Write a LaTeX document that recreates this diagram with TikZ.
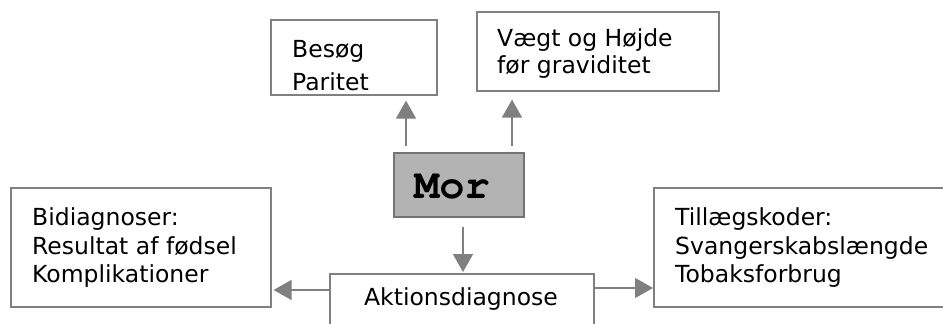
\documentclass[tikz,border=0pt]{standalone}
\usepackage[T1]{fontenc}
\usepackage{fontspec}
\setmainfont{DejaVu Sans}
\newcommand{\courbold}{\fontencoding{T1}\fontfamily{pcr}\fontseries{b}\selectfont}
\usetikzlibrary{arrows.meta}
\definecolor{edge}{HTML}{808080}
\definecolor{morfill}{HTML}{B3B3B3}
\tikzset{
  box/.style={draw=edge, line width=1.6pt, fill=white, inner sep=0pt, anchor=north west},
  txt/.style={anchor=base west, inner sep=0pt, font=\fontsize{23.5}{28}\selectfont},
  arr/.style={draw=edge, line width=1.6pt, -{Triangle[length=18pt,width=20pt]}},
}
\begin{document}
\begin{tikzpicture}[x=1pt,y=-1pt]
\useasboundingbox (0,0) rectangle (943,324);
\clip (0,0) rectangle (943,324);
\fill[white] (0,0) rectangle (943,324);
% boxes
\node[box, minimum width=166pt, minimum height=75pt] (besog) at (270,19) {};
\node[box, minimum width=242pt, minimum height=79pt] (vaegt) at (476,11) {};
\node[box, fill=morfill, draw=edge!90!black, minimum width=130pt, minimum height=64pt] (mor) at (393,152) {};
\node[box, minimum width=260pt, minimum height=119pt] (bidi) at (10,187) {};
\node[box, minimum width=264pt, minimum height=80pt] (akt) at (329,273) {};
\node[box, minimum width=320pt, minimum height=119pt] (till) at (653,187) {};
% texts
\node[txt] (t1) at (292,57.5) {Besøg};
\begin{scope}
\clip (271,20) rectangle (435,91.8);
\node[txt] (t2) at (292,90.6) {Paritet};
\end{scope}
\node[txt] (t3) at (497,46.7) {Vægt og Højde};
\node[txt] (t4) at (497,73.5) {før graviditet};
\node[anchor=base, inner sep=0pt, font=\courbold\fontsize{42}{42}\selectfont] (tm) at (452,198) {Mor};
\node[txt] (t5) at (32,225) {Bidiagnoser:};
\node[txt] (t6) at (32,254) {Resultat af fødsel};
\node[txt] (t7) at (32,282) {Komplikationer};
\node[anchor=base, inner sep=0pt, font=\fontsize{23.5}{28}\selectfont] (t8) at (461,305) {Aktionsdiagnose};
\node[txt] (t9) at (675,225) {Tillægskoder:};
\node[txt] (t10) at (675,254) {Svangerskabslængde};
\node[txt] (t11) at (675,282) {Tobaksforbrug};
% connectors
\draw[arr, shorten <=6pt, shorten >=5pt] (mor.north -| 406,0) -- (besog.south -| 406,0);
\draw[arr, shorten <=6pt, shorten >=8pt] (mor.north -| 512,0) -- (vaegt.south -| 512,0);
\draw[arr, shorten <=9pt, shorten >=1pt] (mor.south -| 463,0) -- (akt.north -| 463,0);
\draw[arr, shorten >=2pt] (akt.west |- 0,290) -- (bidi.east |- 0,290);
\draw[arr] (akt.east |- 0,288) -- (till.west |- 0,288);
\end{tikzpicture}
\end{document}
